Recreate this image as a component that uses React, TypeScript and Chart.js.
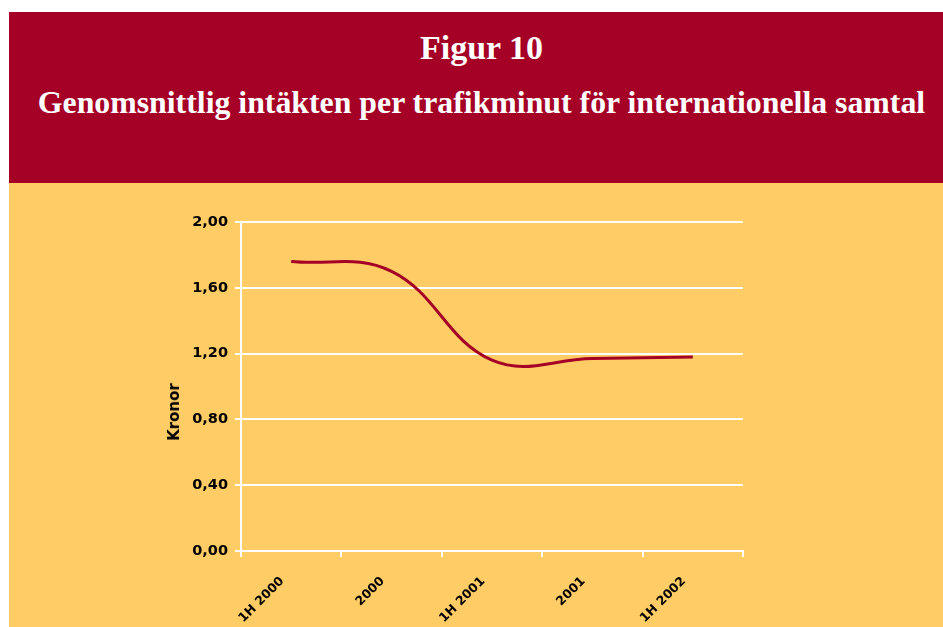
import React, { useEffect, useRef } from "react";
import { Chart, registerables } from "chart.js";

Chart.register(...registerables);

const categories = ["1H 2000", "2000", "1H 2001", "2001", "1H 2002"];
const kronor = [1.76, 1.70, 1.16, 1.17, 1.18];
const yTicks = [0, 0.4, 0.8, 1.2, 1.6, 2.0];

const titleMain = "Figur 10";
const titleSub = "Genomsnittlig intäkten per trafikminut för internationella samtal";
const yAxisTitle = "Kronor";

const RED = "#A50026";
const YELLOW = "#FFCC66";

export default function App() {
  const ref = useRef<HTMLCanvasElement | null>(null);

  useEffect(() => {
    if (!ref.current) return;
    const chart = new Chart(ref.current, {
      type: "line",
      data: {
        labels: categories,
        datasets: [
          {
            data: kronor,
            borderColor: RED,
            borderWidth: 3,
            pointRadius: 0,
            tension: 0.4,
            fill: false,
          },
        ],
      },
      options: {
        animation: false,
        responsive: false,
        maintainAspectRatio: false,
        layout: { padding: { left: 0, right: 200, top: 39, bottom: 0 } },
        plugins: {
          legend: { display: false },
          tooltip: { enabled: false },
          title: { display: false },
        },
        scales: {
          x: {
            type: "category",
            offset: true,
            afterFit: (s: any) => {
              s.height = 76;
            },
            grid: {
              display: true,
              offset: true,
              drawOnChartArea: false,
              drawTicks: true,
              tickLength: 6,
              color: "#FFFFFF",
              lineWidth: 2,
            },
            border: { display: true, color: "#FFFFFF", width: 2 },
            ticks: {
              autoSkip: false,
              maxRotation: 45,
              minRotation: 45,
              padding: 17,
              labelOffset: -9,
              color: "#000000",
              font: { family: "'DejaVu Sans', sans-serif", size: 12.5, weight: "bold" },
            },
          },
          y: {
            min: 0,
            max: 2,
            afterFit: (s: any) => {
              s.width = 232;
            },
            afterBuildTicks: (s: any) => {
              s.ticks = yTicks.map((v) => ({ value: v }));
            },
            grid: {
              color: "#FFFFFF",
              lineWidth: 2,
              drawTicks: true,
              tickLength: 6,
            },
            border: { display: true, color: "#FFFFFF", width: 2 },
            ticks: {
              padding: 7,
              color: "#000000",
              font: { family: "'DejaVu Sans', sans-serif", size: 14.5, weight: "bold" },
              callback: (v: any) => Number(v).toFixed(2).replace(".", ","),
            },
          },
        },
      },
    });
    return () => chart.destroy();
  }, []);

  return (
    <div>
      <div
        style={{
          position: "absolute",
          left: 9,
          top: 12,
          width: 934,
          height: 171,
          background: RED,
        }}
      />
      <div
        style={{
          position: "absolute",
          left: 9,
          top: 183,
          width: 934,
          height: 444,
          background: YELLOW,
        }}
      />
      <div
        style={{
          position: "absolute",
          left: 20,
          width: 923,
          top: 30.8,
          textAlign: "center",
          color: "#FFFFFF",
          fontFamily: "'Liberation Serif', 'Times New Roman', serif",
          fontWeight: "bold",
          fontSize: 34,
          lineHeight: "34px",
          whiteSpace: "nowrap",
        }}
      >
        {titleMain}
      </div>
      <div
        style={{
          position: "absolute",
          left: 20,
          width: 923,
          top: 86.5,
          textAlign: "center",
          color: "#FFFFFF",
          fontFamily: "'Liberation Serif', 'Times New Roman', serif",
          fontWeight: "bold",
          fontSize: 31.8,
          lineHeight: "32px",
          whiteSpace: "nowrap",
        }}
      >
        {titleSub}
      </div>
      <canvas
        ref={ref}
        width={934}
        height={444}
        style={{ position: "absolute", left: 9, top: 183, width: 934, height: 444 }}
      />
      <div
        style={{
          position: "absolute",
          left: 173.5,
          top: 412,
          transform: "translate(-50%, -50%) rotate(-90deg)",
          fontFamily: "'DejaVu Sans', sans-serif",
          fontWeight: "bold",
          fontSize: 15,
          color: "#000000",
          whiteSpace: "nowrap",
        }}
      >
        {yAxisTitle}
      </div>
    </div>
  );
}
